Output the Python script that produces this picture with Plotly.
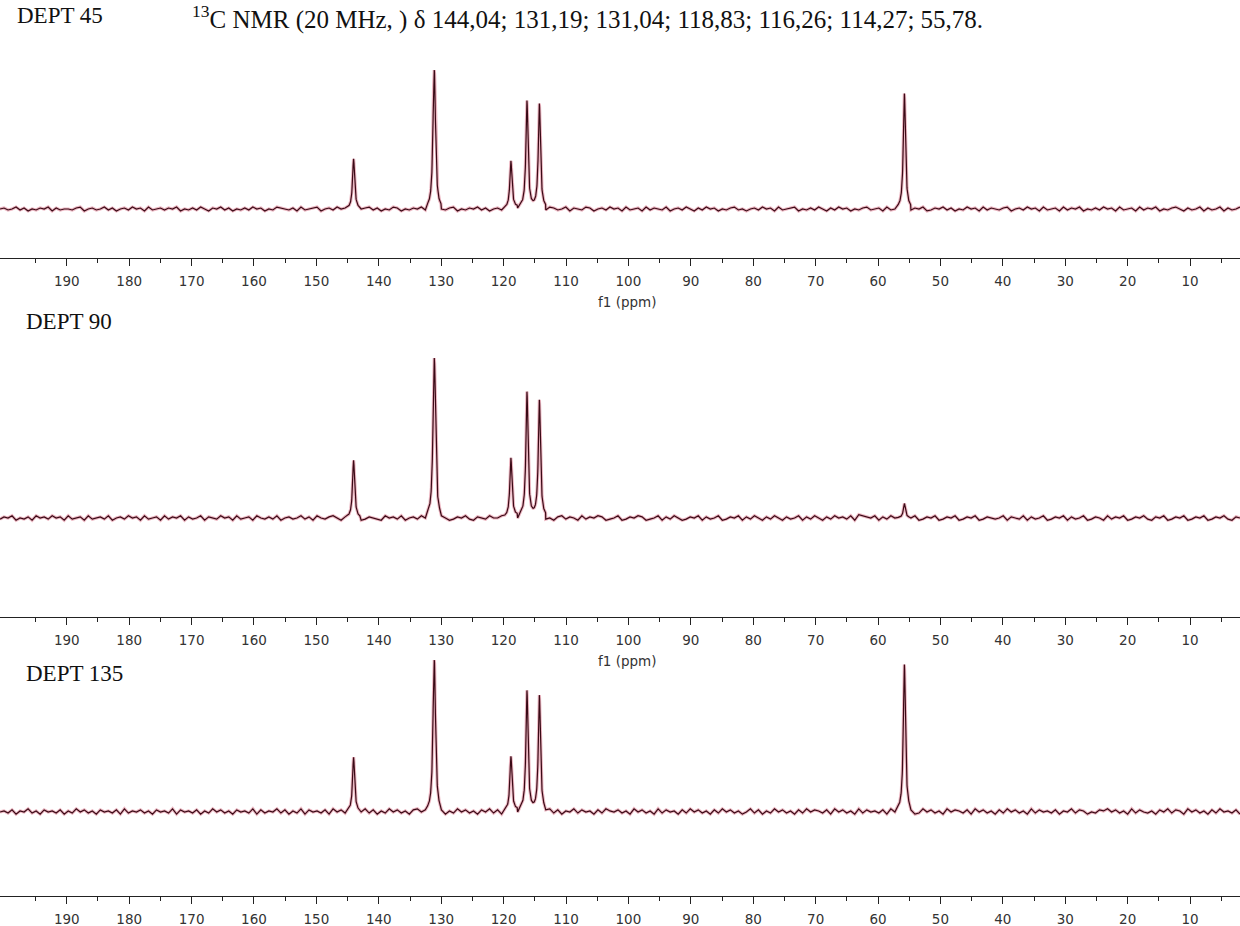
import numpy as np
import plotly.graph_objects as go

# 13C chemical shifts (ppm) shared by the three DEPT spectra
SHIFTS = [144.04, 131.19, 131.04, 118.83, 116.26, 114.27, 55.78]

# relative peak intensities per experiment (tallest signal ~100)
INT_DEPT45 = [36, 57, 57, 34, 77, 75, 83]
INT_DEPT90 = [36, 57, 57, 37, 78, 73, 9]
INT_DEPT135 = [36, 57, 57, 36, 79, 76, 97]

# baseline noise samples, one digit per sample (4 = zero level), high ppm -> low ppm
NOISE_DEPT45 = (
    "45346352435462534435624534635245364526345354624353642546352435"
    "36452436543526345624536452634563524365243546352643562435463524"
    "53642536452436534625436524536452634526354362453642536452435634"
    "24536452634562435364253645243563452634526354623546352436452635"
    "43562453645263452635462435364526345263546243564253462534625346"
)
NOISE_DEPT90 = (
    "35462435264536452634526345362453645263452635462534625436452634"
    "52643536245346352643564253462354326453624536425364235463254364"
    "46352436452634256354263546523462354652346253642354625346235462"
    "53642536425346253642536453627654625364253462354623546235462354"
    "34625436253462354625346235426354623546325462354623546235463254"
)
NOISE_DEPT135 = (
    "45362547352645362537463526453627354635264537264536253746352645"
    "37263547362537264536274635264736253746352674635262537463526473"
    "62537462537467362547364526375463527463527364526374635263746352"
    "47362537463526374653627463527364536274635623746352746536274635"
    "26374635273645362547365243657463527364352647365274635263745362"
)

TICK_VALUES = list(range(10, 200, 10))
TICK_LABELS = [str(v) for v in TICK_VALUES]

W, H = 1240, 926
PPM_LEFT, PPM_RIGHT = 200.7, 2.0
HWHM = 0.2          # Lorentzian half width (ppm)
WINDOW = 1.0        # half width of the finely sampled region around each peak
NOISE_STEP = 0.7    # intensity units per noise digit

# pixel geometry of each panel: top of plot area, baseline, 100-unit level, axis line
PANELS = [
    dict(label="DEPT 45", ints=INT_DEPT45, noise=NOISE_DEPT45, top=50, base=209, full=70, axis=258),
    dict(label="DEPT 90", ints=INT_DEPT90, noise=NOISE_DEPT90, top=340, base=518, full=358, axis=617),
    dict(label="DEPT 135", ints=INT_DEPT135, noise=NOISE_DEPT135, top=648, base=812, full=660, axis=896),
]
# vertical centre (px) of each "f1 (ppm)" caption; the last one runs off the page
AXIS_CAPTION_Y = [302, 661, 933]

SERIF = "Liberation Serif"
SANS = "DejaVu Sans"


def spectrum(intensities, noise):
    shifts = np.array(SHIFTS)
    heights = np.array(intensities, dtype=float)

    def lorentz(x):
        return (heights * HWHM**2 / ((x[:, None] - shifts) ** 2 + HWHM**2)).sum(axis=1)

    fine = np.unique(np.concatenate([np.arange(p - WINDOW, p + WINDOW, 0.02) for p in SHIFTS]))
    coarse_x = np.linspace(PPM_LEFT, PPM_RIGHT, len(noise))
    coarse_y = np.array([(int(c) - 4) * NOISE_STEP for c in noise])
    keep = np.min(np.abs(coarse_x[:, None] - shifts), axis=1) > WINDOW
    x = np.concatenate([coarse_x[keep], fine])
    y = np.concatenate([coarse_y[keep], lorentz(fine)])
    order = np.argsort(-x)
    return x[order], y[order]


fig = go.Figure()
annotations = []
layout = {}

for i, p in enumerate(PANELS, start=1):
    sfx = "" if i == 1 else str(i)
    x, y = spectrum(p["ints"], p["noise"])
    ppu = (p["base"] - p["full"]) / 100.0
    y_min = -(p["axis"] - p["base"]) / ppu
    y_max = (p["base"] - p["top"]) / ppu

    # soft red halo under a dark trace
    fig.add_trace(go.Scatter(x=x, y=y, mode="lines", xaxis="x" + sfx, yaxis="y" + sfx,
                             line=dict(color="rgba(200,50,80,0.35)", width=3.2),
                             hoverinfo="skip", showlegend=False))
    fig.add_trace(go.Scatter(x=x, y=y, mode="lines", xaxis="x" + sfx, yaxis="y" + sfx,
                             line=dict(color="#3a0a16", width=1.2),
                             showlegend=False))

    layout["xaxis" + sfx] = dict(
        domain=[0, 1], anchor="y" + sfx, range=[PPM_LEFT, PPM_RIGHT],
        showline=True, linecolor="#222", linewidth=1.4, mirror=False,
        showgrid=False, zeroline=False,
        ticks="outside", ticklen=7, tickwidth=1.2, tickcolor="#222",
        tickmode="array", tickvals=TICK_VALUES, ticktext=TICK_LABELS,
        tickfont=dict(family=SANS, size=13.5, color="#333"),
        ticklabelstandoff=4,
        minor=dict(ticks="outside", ticklen=4, tickwidth=1.2, tickcolor="#222",
                   tickmode="linear", tick0=5, dtick=10, showgrid=False),
    )
    layout["yaxis" + sfx] = dict(
        domain=[1 - p["axis"] / H, 1 - p["top"] / H], anchor="x" + sfx,
        range=[y_min, y_max], visible=False, fixedrange=True,
    )

for cy in AXIS_CAPTION_Y:
    annotations.append(dict(text="f1 (ppm)", x=627 / W, y=1 - cy / H, xref="paper", yref="paper",
                            xanchor="center", yanchor="middle", showarrow=False,
                            font=dict(family=SANS, size=13.5, color="#333")))

annotations.append(dict(text="DEPT 45", x=15 / W, y=1 - 16 / H, xref="paper", yref="paper",
                        xanchor="left", yanchor="middle", showarrow=False,
                        font=dict(family=SERIF, size=23, color="#111")))
annotations.append(dict(text="<sup>13</sup>C NMR (20 MHz, ) δ 144,04; 131,19; 131,04; 118,83; 116,26; 114,27; 55,78.",
                        x=190 / W, y=1 - 17 / H, xref="paper", yref="paper",
                        xanchor="left", yanchor="middle", showarrow=False,
                        font=dict(family=SERIF, size=25, color="#111")))
annotations.append(dict(text="DEPT 90", x=24 / W, y=1 - 322 / H, xref="paper", yref="paper",
                        xanchor="left", yanchor="middle", showarrow=False,
                        font=dict(family=SERIF, size=23, color="#111")))
annotations.append(dict(text="DEPT 135", x=24 / W, y=1 - 673 / H, xref="paper", yref="paper",
                        xanchor="left", yanchor="middle", showarrow=False,
                        font=dict(family=SERIF, size=23, color="#111")))

fig.update_layout(
    width=W, height=H,
    margin=dict(l=0, r=0, t=0, b=0),
    paper_bgcolor="white", plot_bgcolor="white",
    annotations=annotations,
    **layout,
)

fig.write_html("out.html")
